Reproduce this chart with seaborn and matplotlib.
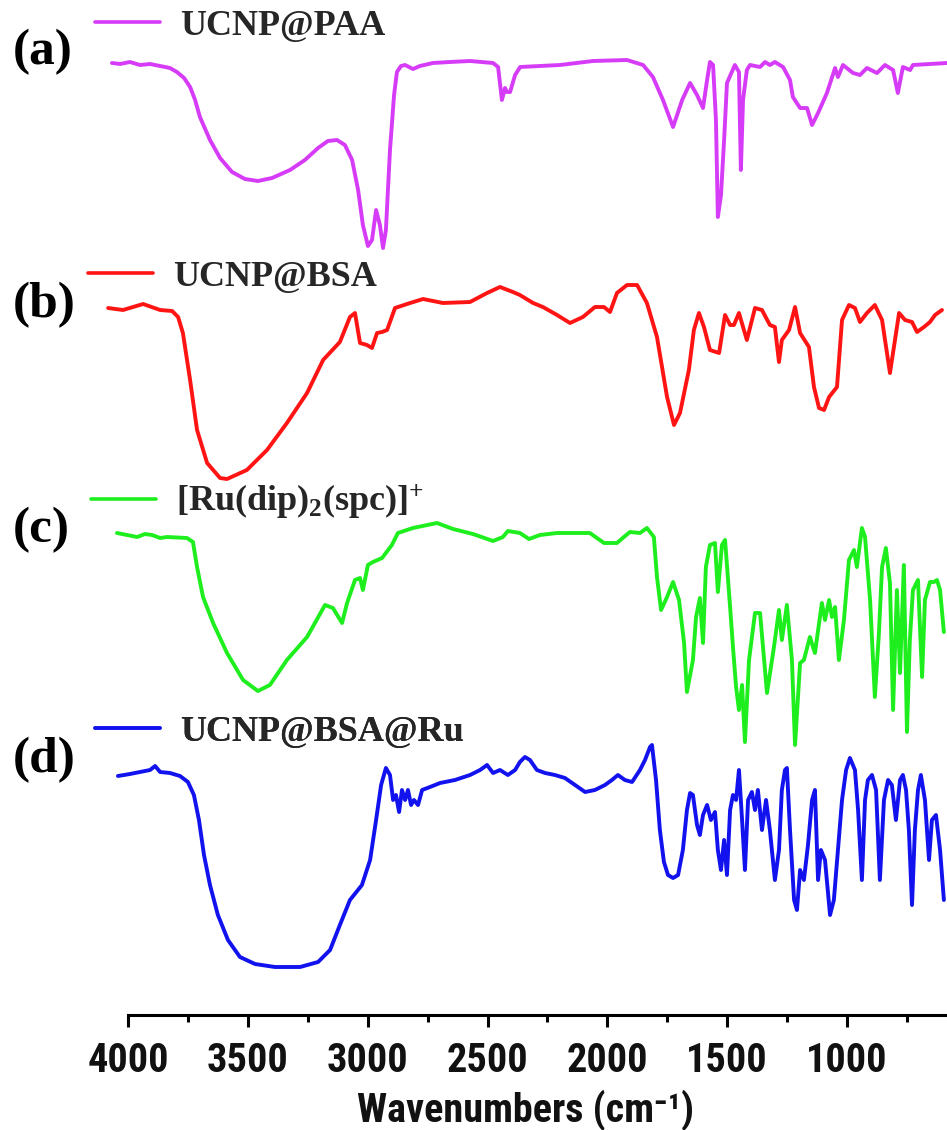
import matplotlib
matplotlib.use("Agg")
import matplotlib.pyplot as plt
from matplotlib import font_manager as fm
import numpy as np
import pandas as pd
import seaborn as sns

# ---------------- data: FTIR spectra (wavenumber in cm^-1, transmittance in a.u.) ----------------
names = ["UCNP@PAA", "UCNP@BSA", r"[Ru(dip)$_{\mathbf{2}}$(spc)]$^{\mathbf{+}}$", "UCNP@BSA@Ru"]
panel_tags = ["(a)", "(b)", "(c)", "(d)"]
colors = ["#D63CF7", "#FF1414", "#1EEE1E", "#1212EE"]

wn_paa = [4067, 4033, 3992, 3950, 3908, 3866, 3825, 3796, 3766, 3741,
          3720, 3700, 3658, 3616, 3566, 3512, 3458, 3399, 3324, 3262,
          3207, 3166, 3128, 3095, 3065, 3040, 3020, 2999, 2982, 2965,
          2949, 2936, 2924, 2907, 2890, 2878, 2861, 2844, 2811, 2782,
          2728, 2657, 2573, 2477, 2456, 2440, 2427, 2419, 2406, 2385,
          2364, 2281, 2198, 2060, 1918, 1851, 1810, 1768, 1726, 1688,
          1655, 1626, 1601, 1584, 1572, 1559, 1547, 1539, 1526, 1513,
          1501, 1468, 1451, 1443, 1434, 1418, 1405, 1363, 1342, 1322,
          1301, 1267, 1238, 1226, 1196, 1167, 1146, 1121, 1084, 1050,
          1038, 1017, 975, 946, 917, 875, 842, 808, 788, 767,
          737, 725, 654, 583]
t_paa = [98.5, 98, 99, 97.5, 98, 97, 96, 94, 91, 86.5,
         80, 71.5, 60, 51, 44, 40.5, 39.5, 41, 45, 50,
         56, 59.5, 60, 57.5, 50, 35, 17.5, 7, 10, 25,
         17.5, 6, 15, 55, 82.5, 94, 97, 97.5, 95.5, 97,
         98.5, 99, 99.5, 98.5, 96.5, 80, 86, 84, 84, 92.5,
         96.5, 97, 97.5, 99.5, 100, 97.5, 91.5, 80, 66.5, 80,
         88.5, 82.5, 76, 90, 99, 97.5, 70, 21.5, 32.5, 60,
         88.5, 97.5, 94, 45, 80, 95, 97.5, 96.5, 99, 97.5,
         99, 96.5, 90, 81.5, 76, 76, 67.5, 73.5, 83.5, 96,
         91.5, 97.5, 93.5, 92.5, 96, 93.5, 97.5, 95, 83.5, 96.5,
         95, 97.5, 98, 98.5]

wn_bsa = [4083, 4021, 3937, 3866, 3816, 3791, 3771, 3741, 3712, 3670,
          3616, 3587, 3504, 3420, 3337, 3253, 3186, 3116, 3074, 3053,
          3032, 3003, 2982, 2961, 2940, 2919, 2886, 2823, 2769, 2686,
          2573, 2502, 2448, 2394, 2365, 2310, 2269, 2210, 2156, 2102,
          2052, 2014, 1989, 1960, 1918, 1876, 1835, 1793, 1751, 1722,
          1697, 1660, 1639, 1618, 1597, 1572, 1534, 1509, 1488, 1472,
          1451, 1418, 1384, 1355, 1322, 1301, 1284, 1272, 1242, 1217,
          1196, 1159, 1138, 1117, 1096, 1075, 1042, 1021, 992, 967,
          946, 917, 884, 854, 821, 800, 783, 758, 729, 708,
          679, 654, 633, 604]
t_bsa = [87.5, 86.5, 89.5, 86.5, 86, 83, 75, 51.5, 26.5, 10,
         2.5, 2, 6.5, 16.5, 30, 45, 61.5, 70.5, 83, 85,
         70, 69, 67.5, 75, 75.5, 76.5, 87.5, 90, 92, 90,
         90.5, 95, 98, 95.5, 94, 90, 88, 84, 80, 83,
         88, 88, 85.5, 95, 99, 99, 90, 73, 43, 29,
         35, 56.5, 76.5, 85, 78, 66.5, 65, 84, 79, 79,
         85, 71.5, 87.5, 86.5, 79, 78, 60.5, 71.5, 76.5, 88,
         75, 68, 48, 37.5, 36.5, 43, 48, 81.5, 89, 87.5,
         80.5, 85, 89, 81.5, 55, 71.5, 85, 81.5, 80.5, 75.5,
         78, 80.5, 84, 86.5]

wn_ru = [4046, 3962, 3929, 3900, 3866, 3837, 3754, 3729, 3712, 3687,
         3645, 3587, 3520, 3458, 3408, 3337, 3253, 3178, 3145, 3107,
         3086, 3053, 3032, 3020, 2999, 2978, 2940, 2899, 2874, 2811,
         2711, 2644, 2561, 2477, 2436, 2415, 2365, 2327, 2281, 2210,
         2073, 2014, 1960, 1931, 1906, 1864, 1835, 1806, 1793, 1776,
         1751, 1726, 1701, 1680, 1668, 1643, 1630, 1614, 1601, 1589,
         1572, 1551, 1539, 1522, 1509, 1488, 1476, 1463, 1451, 1438,
         1426, 1409, 1384, 1363, 1334, 1305, 1284, 1272, 1251, 1230,
         1217, 1196, 1180, 1155, 1134, 1105, 1092, 1075, 1063, 1050,
         1034, 1013, 992, 971, 959, 938, 925, 904, 884, 867,
         854, 838, 821, 808, 792, 779, 763, 750, 738, 725,
         704, 687, 675, 654, 637, 625, 612, 596]
t_ru = [106, 104, 105.5, 105, 103.5, 104, 103.5, 101.5, 89, 74,
        61, 46, 32.5, 27, 30, 42.5, 54, 70, 68.5, 61,
        71, 82.5, 83.5, 77.5, 90, 91.5, 93.5, 100, 106, 108.5,
        111, 108, 105.5, 102, 104, 107, 106, 103, 105, 106,
        106, 101, 101, 104, 106.5, 106, 108.5, 104, 84, 67.5,
        74, 81.5, 72.5, 51, 26.5, 42.5, 64, 73.5, 51, 89,
        100, 101, 76.5, 100, 102.5, 69, 49, 29, 17.5, 30,
        1.5, 42.5, 66, 66, 26, 49, 67.5, 52.5, 70, 42.5,
        0, 41, 42.5, 54, 46, 71, 62.5, 72.5, 64, 69,
        42.5, 62.5, 92.5, 97.5, 89, 108.5, 104, 72.5, 24, 56,
        89, 98.5, 81, 17.5, 77.5, 36, 90, 6.5, 52.5, 77.5,
        82.5, 34, 72.5, 81.5, 81.5, 82.5, 77.5, 56.5]

wn_ru_np = [4042, 3992, 3950, 3908, 3887, 3866, 3825, 3783, 3750, 3725,
            3704, 3683, 3658, 3625, 3583, 3533, 3470, 3387, 3282, 3207,
            3157, 3116, 3074, 3024, 2990, 2965, 2944, 2924, 2907, 2894,
            2882, 2869, 2857, 2844, 2832, 2819, 2807, 2790, 2773, 2740,
            2698, 2636, 2573, 2531, 2502, 2477, 2448, 2415, 2385, 2365,
            2344, 2323, 2294, 2260, 2219, 2177, 2135, 2093, 2052, 2010,
            1981, 1956, 1927, 1897, 1864, 1843, 1822, 1814, 1797, 1781,
            1764, 1747, 1726, 1705, 1685, 1668, 1655, 1643, 1626, 1614,
            1601, 1584, 1568, 1551, 1539, 1526, 1513, 1501, 1488, 1476,
            1463, 1451, 1438, 1426, 1413, 1397, 1384, 1372, 1355, 1338,
            1322, 1301, 1284, 1272, 1259, 1251, 1238, 1221, 1209, 1196,
            1180, 1163, 1146, 1134, 1121, 1109, 1092, 1071, 1055, 1038,
            1021, 1004, 988, 967, 954, 938, 925, 913, 896, 879,
            863, 846, 829, 813, 796, 779, 767, 754, 742, 729,
            717, 704, 692, 675, 658, 646, 629, 612, 596]
t_ru_np = [97, 98, 99, 100, 102, 99, 98.5, 97, 94, 87.5,
           75, 57.5, 42.5, 27.5, 15, 6.5, 3, 1.5, 1.5, 4,
           10, 22.5, 35, 42.5, 55, 75, 92.5, 101, 97.5, 85,
           87.5, 79, 90, 85, 90, 82.5, 85, 82.5, 90, 91.5,
           93.5, 95, 97.5, 100, 102.5, 98.5, 100, 97.5, 100, 104,
           106.5, 105, 100, 98.5, 97.5, 96, 92.5, 89, 90, 92.5,
           95, 97.5, 95, 94, 100, 105, 111.5, 112.5, 95, 70,
           54, 47.5, 46, 47.5, 60, 80, 88.5, 87.5, 72.5, 67.5,
           77.5, 82.5, 75, 79, 60, 50, 65, 47.5, 80, 87.5,
           85, 100, 75, 50, 85, 89, 80, 90, 70, 85,
           70, 45, 60, 90, 100, 101, 70, 35, 30, 50,
           45, 62.5, 85, 90, 45, 60, 55, 27.5, 35, 60,
           85, 100, 106, 100, 80, 45, 85, 95, 97.5, 90,
           45, 85, 95, 92.5, 75, 95, 97.5, 90, 70, 32.5,
           70, 90, 97.5, 85, 55, 75, 77.5, 60, 35]

wavenumbers = [wn_paa, wn_bsa, wn_ru, wn_ru_np]
transmittance = [t_paa, t_bsa, t_ru, t_ru_np]

tick_major = [4000, 3500, 3000, 2500, 2000, 1500, 1000]
tick_minor = [3750, 3250, 2750, 2250, 1750, 1250, 750]

# ---------------- layout / styling ----------------
stack_offsets = [755, 532, 270, 45]   # vertical shift of each trace
stack_scale = 2.0                     # a.u. -> axis units
xlim = (4096, 583)

sns.set_theme(style="white")


def pick(*families):
    for fam in families:
        try:
            fm.findfont(fm.FontProperties(family=fam, weight="bold"), fallback_to_default=False)
            return fam
        except Exception:
            pass
    return None


narrow = pick("Liberation Sans Narrow", "Arial Narrow", "Roboto Condensed",
              "Open Sans Condensed", "Noto Sans Condensed")
sans = narrow or "Liberation Sans"
axis_size = 29 if narrow else 26
serif = pick("Liberation Serif", "DejaVu Serif") or "DejaVu Serif"

plt.rcParams["font.family"] = [sans, "DejaVu Sans"]
plt.rcParams["mathtext.fontset"] = "custom"
plt.rcParams["mathtext.rm"] = f"{serif}:bold"
plt.rcParams["mathtext.bf"] = f"{serif}:bold"
plt.rcParams["mathtext.it"] = f"{serif}:bold"

W, H = 947, 1130
fig = plt.figure(figsize=(W / 100, H / 100), dpi=100)
ax = fig.add_axes([105 / W, (H - 1015) / H, 842 / W, 985 / H])

for wn, t, off, col, name in zip(wavenumbers, transmittance, stack_offsets, colors, names):
    df = pd.DataFrame({"wn": wn, "y": off + stack_scale * np.asarray(t, float)})
    sns.lineplot(data=df, x="wn", y="y", ax=ax, color=col, lw=2.8, sort=False,
                 estimator=None, label=name, legend=False)

for ln in ax.get_lines():
    ln.set_solid_joinstyle("round")
    ln.set_solid_capstyle("round")

ax.set_xlim(*xlim)
ax.set_ylim(0, 985)
ax.set_yticks([])
ax.set_ylabel("")
for s in ("left", "top", "right"):
    ax.spines[s].set_visible(False)
ax.spines["bottom"].set_linewidth(2.2)
ax.spines["bottom"].set_color("black")
ax.spines["bottom"].set_bounds(xlim[1], 4000)

ax.set_xticks(tick_major)
ax.set_xticks(tick_minor, minor=True)
ax.set_xticklabels([str(v) for v in tick_major])
ax.tick_params(axis="x", which="major", direction="out", length=8.5, width=2.2,
               color="black", pad=11, labelsize=axis_size, bottom=True)
ax.tick_params(axis="x", which="minor", direction="out", length=5, width=2.2,
               color="black", bottom=True)
for lab in ax.get_xticklabels():
    lab.set_fontweight("bold")
    lab.set_color("#111111")
ax.set_xlabel("Wavenumbers (cm\u207b\u00b9)", fontsize=axis_size, fontweight="bold",
              color="#111111", labelpad=7)

# ---------------- legends and panel tags ----------------
legend_rows = [26, 277, 502, 732]       # vertical centre of each legend entry
legend_x = [95, 88, 91, 95]             # left end of each legend line
tag_rows = [52, 305, 530, 760]

handles = ax.get_lines()
leg_font = fm.FontProperties(family=serif, weight="bold", size=26)
for i, (h, name) in enumerate(zip(handles, names)):
    leg = ax.legend([h], [name], loc="center left",
                    bbox_to_anchor=(legend_x[i] / W, 1 - legend_rows[i] / H),
                    bbox_transform=fig.transFigure, frameon=False, borderpad=0,
                    borderaxespad=0, handlelength=1.8, handletextpad=0.55,
                    prop=leg_font)
    for lh in leg.get_lines():
        lh.set_linewidth(2.6)
    ax.add_artist(leg)

for tag, row in zip(panel_tags, tag_rows):
    fig.text(13 / W, 1 - row / H, tag, fontsize=37, fontweight="bold",
             family=serif, ha="left", va="center", color="black")

fig.savefig("out.png", dpi=100, facecolor="white")
